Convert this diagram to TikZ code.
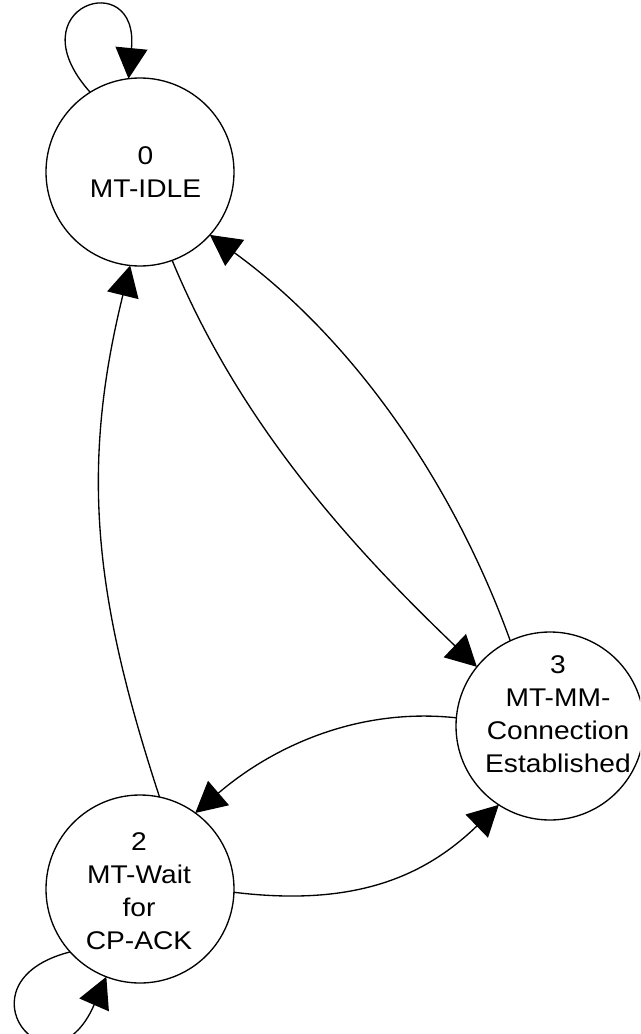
\documentclass[tikz,border=0pt]{standalone}
\usepackage{fontspec}
\setmainfont{Liberation Sans}[FakeStretch=1.1]
\usetikzlibrary{arrows.meta}
\begin{document}
\begin{tikzpicture}[x=0.75pt,y=-0.75pt,
  state/.style={circle,draw,line width=1pt,minimum size=141pt,inner sep=0pt,outer sep=0pt},
  lbl/.style={align=center,inner sep=0pt,font=\fontsize{19.2}{24.75}\selectfont},
  edge/.style={line width=1pt,-{Triangle[length=23pt,width=24pt]}}]
\path[use as bounding box,clip] (0,0) rectangle (640,1034);
\node[state] (n0) at (140,172) {};
\node[state] (n3) at (550,726) {};
\node[state] (n2) at (140,889) {};
\node[lbl] (t0) at (145.5,172) {0\\MT-IDLE};
\node[lbl] (t3) at (558,714) {3\\MT-MM-\\Connection\\Established};
\node[lbl] (t2) at (139,891) {2\\MT-Wait\\for\\CP-ACK};
% self loop on 0
\draw[edge] (n0.122.5) .. controls (13,6) and (139.5,-35) .. (n0.97.4);
% 0 -> 3
\draw[edge] (n0.-70.8) .. controls (241,427) and (356,551) .. (n3.141.1);
% 3 -> 0
\draw[edge] (n3.115.5) .. controls (451,477) and (349,336) .. (n0.-42.4);
% 2 -> 0
\draw[edge] (n2.78.6) .. controls (94,597) and (80,469) .. (n0.-96);
% 3 -> 2
\draw[edge] (n3.175.3) .. controls (356,707) and (271,748) .. (n2.54.5);
% 2 -> 3
\draw[edge] (n2.-2.4) .. controls (354,907) and (424,877) .. (n3.-123);
% self loop on 2
\draw[edge] (n2.-138.4) .. controls (-48,982) and (51,1104) .. (n2.-111);
\end{tikzpicture}
\end{document}
